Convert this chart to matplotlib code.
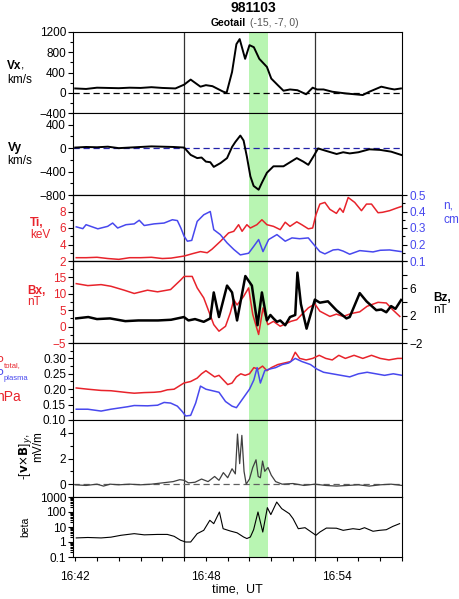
import numpy as np
import matplotlib
matplotlib.use('Agg')
import matplotlib.pyplot as plt
from matplotlib.ticker import MultipleLocator, FixedLocator, NullFormatter, LogLocator, FuncFormatter

plt.rcParams['font.family'] = ['Liberation Sans', 'DejaVu Sans']
plt.rcParams['font.size'] = 8.5

RED = '#e8232b'
BLUE = '#4848ee'
GREEN = '#b8f5b2'
GRAY = '#333333'

# ---------------- data (time in minutes after 16:42 UT) ----------------
vx_t = [0.0, 0.5, 1.0, 1.5, 2.0, 2.5, 3.0, 3.5, 4.0, 4.6, 5.0, 5.3, 5.75, 6.0, 6.3, 6.8, 6.95,
        7.2, 7.4, 7.55, 7.8, 8.0, 8.2, 8.45, 8.8, 9.0, 9.3, 9.56, 9.86, 10.2, 10.6, 10.9, 11.1,
        11.4, 11.8, 12.45, 13.2, 13.5, 14.05, 14.4, 14.65, 14.95]
vx = [85, 75, 100, 95, 90, 100, 95, 110, 95, 85, 160, 260, 120, 150, 130, 20, 0,
      410, 960, 1060, 670, 940, 900, 670, 510, 280, 150, 40, 65, 50, -30, 100, 65,
      65, 20, -15, -45, 20, 120, 85, 65, 85]

vy_t = [0, 0.5, 1.0, 1.5, 2.0, 2.5, 3.0, 3.5, 4.0, 4.5, 5.0, 5.3, 5.6, 5.8, 6.0, 6.2, 6.36,
        6.67, 6.97, 7.2, 7.35, 7.58, 7.73, 7.88, 8.04, 8.19, 8.42, 8.57, 8.8, 9.1, 9.56,
        10.17, 10.47, 10.7, 10.93, 11.15, 11.5, 12.0, 12.3, 12.6, 13.0, 13.5, 14.0, 14.5, 15.0]
vy = [10, 20, 15, 25, 0, 10, 20, 30, 25, 20, 10, -115, -170, -160, -230, -240, -320,
      -255, -170, 20, 105, 215, 130, -145, -480, -645, -710, -590, -420, -310, -310,
      -170, -230, -285, -145, -5, -45, -100, -70, -90, -70, -20, -30, -60, -120]

ti_t = [0.05, 0.5, 1.0, 1.5, 2.0, 2.5, 3.0, 3.5, 4.0, 4.4, 5.0, 5.4, 5.75, 6.06, 6.28, 6.66,
        7.04, 7.28, 7.5, 7.66, 7.88, 8.04, 8.34, 8.57, 8.8, 9.1, 9.41, 9.64, 9.86, 10.17,
        10.4, 10.7, 10.9, 11.05, 11.23, 11.46, 11.69, 11.99, 12.15, 12.3, 12.53, 12.83,
        13.14, 13.37, 13.6, 13.9, 14.1, 14.43, 14.74, 14.96]
ti = [2.4, 2.4, 2.45, 2.3, 2.2, 2.4, 2.4, 2.45, 2.3, 2.35, 2.6, 2.9, 3.14, 3.0, 3.43, 4.37,
      5.4, 5.6, 6.4, 5.6, 6.4, 6.0, 6.4, 7.0, 6.4, 6.2, 5.8, 6.7, 6.2, 6.75,
      6.4, 5.9, 6.0, 7.6, 8.9, 9.1, 8.26, 7.77, 8.4, 7.9, 9.7, 9.1,
      8.1, 8.9, 8.9, 7.85, 7.9, 8.1, 8.4, 8.6]

n_t = [0.05, 0.35, 0.5, 1.04, 1.49, 1.72, 1.95, 2.33, 2.71, 2.94, 3.17, 3.62, 4.08, 4.46,
       4.69, 4.85, 5.0, 5.15, 5.35, 5.6, 5.9, 6.2, 6.36, 6.66, 6.97, 7.28, 7.58, 7.96, 8.19,
       8.42, 8.62, 8.88, 9.26, 9.64, 9.95, 10.3, 10.7, 10.95, 11.23, 11.46, 11.84, 12.07,
       12.3, 12.6, 13.06, 13.67, 14.0, 14.43, 14.96]
n = [0.307, 0.296, 0.32, 0.295, 0.31, 0.33, 0.30, 0.32, 0.325, 0.347, 0.315, 0.325, 0.33,
     0.35, 0.345, 0.30, 0.25, 0.22, 0.225, 0.34, 0.38, 0.40, 0.29, 0.26, 0.21, 0.17, 0.137,
     0.147, 0.188, 0.23, 0.157, 0.23, 0.26, 0.22, 0.24, 0.235, 0.24, 0.20, 0.157, 0.143,
     0.167, 0.17, 0.16, 0.141, 0.163, 0.155, 0.165, 0.167, 0.157]

bx_t = [0.05, 0.58, 1.19, 1.64, 2.25, 2.71, 3.32, 3.78, 4.38, 4.84, 5.0, 5.37, 5.6, 5.9,
        6.13, 6.36, 6.6, 6.9, 7.12, 7.28, 7.43, 7.73, 7.96, 8.15, 8.42, 8.62, 8.84, 9.1,
        9.41, 9.7, 9.9, 10.17, 10.4, 10.7, 11.0, 11.23, 11.69, 11.99, 12.3, 12.68, 13.06,
        13.4, 13.9, 14.28, 14.58, 14.9]
bx = [13.1, 12.5, 12.8, 12.3, 11.1, 10.1, 11.1, 10.6, 11.3, 14.2, 15.3, 15.3, 11.8, 8.75,
      4.7, 0.6, -1.4, 0.1, 4.2, 8.2, 6.6, 9.2, 11.8, 3.7, -2.4, 5.7, 0.6, 1.6,
      0.1, 1.0, 1.6, 2.1, 3.7, 5.7, 6.9, 4.7, 3.1, 3.8, 3.1, 4.0, 4.5,
      6.2, 7.4, 7.2, 5.1, 3.1]

bz_t = [0.05, 0.6, 1.0, 1.6, 2.3, 2.9, 3.8, 4.4, 4.99, 5.2, 5.5, 5.9, 6.2, 6.36, 6.6, 6.97,
        7.2, 7.43, 7.81, 8.11, 8.37, 8.57, 8.8, 8.96, 9.1, 9.26, 9.41, 9.64, 9.86, 10.1,
        10.2, 10.36, 10.62, 11.0, 11.23, 11.6, 11.99, 12.45, 12.6, 13.06, 13.37, 13.82,
        14.05, 14.28, 14.5, 14.7, 14.96]
bz = [1.6, 1.8, 1.5, 1.6, 1.2, 1.3, 1.3, 1.4, 1.8, 1.3, 1.5, 1.1, 1.6, 5.4, 1.8, 6.4,
      5.4, 1.3, 7.8, 6.4, 0.6, 5.4, 1.3, 2.1, 1.6, 1.1, 1.3, 0.6, 1.8, 2.1,
      8.3, 3.7, 0.1, 4.35, 3.9, 4.1, 2.8, 1.6, 1.8, 5.3, 4.1, 2.8,
      2.9, 2.5, 3.4, 3.0, 4.3]

pt_t = [0.05, 0.58, 1.19, 1.64, 2.4, 2.71, 3.17, 3.62, 3.93, 4.23, 4.54, 4.99, 5.3, 5.6,
        5.8, 6.0, 6.2, 6.4, 6.6, 6.8, 7.0, 7.2, 7.4, 7.6, 7.8, 8.0, 8.2, 8.4, 8.6, 8.8,
        9.0, 9.3, 9.6, 9.9, 10.1, 10.3, 10.6, 10.9, 11.2, 11.5, 11.8, 12.1, 12.4, 12.8,
        13.2, 13.6, 14.0, 14.4, 14.8, 15.0]
ptot = [0.204, 0.20, 0.196, 0.195, 0.189, 0.187, 0.189, 0.19, 0.192, 0.198, 0.20, 0.22,
        0.225, 0.236, 0.25, 0.26, 0.25, 0.24, 0.245, 0.23, 0.215, 0.22, 0.24, 0.25, 0.245,
        0.25, 0.27, 0.265, 0.275, 0.26, 0.27, 0.28, 0.285, 0.29, 0.32, 0.30, 0.295, 0.30,
        0.31, 0.30, 0.295, 0.31, 0.30, 0.31, 0.30, 0.31, 0.30, 0.295, 0.30, 0.30]

pp_t = [0.05, 0.58, 1.19, 1.64, 2.4, 2.71, 3.32, 3.78, 4.08, 4.38, 4.69, 4.92, 5.07, 5.3,
        5.53, 5.75, 6.0, 6.3, 6.6, 6.9, 7.2, 7.4, 7.6, 7.8, 8.0, 8.2, 8.35, 8.5, 8.7, 8.9,
        9.2, 9.5, 9.8, 10.1, 10.4, 10.8, 11.1, 11.4, 11.8, 12.2, 12.6, 13.0, 13.4, 13.8,
        14.2, 14.6, 15.0]
pplas = [0.135, 0.135, 0.129, 0.135, 0.143, 0.147, 0.146, 0.148, 0.157, 0.155, 0.145,
         0.127, 0.113, 0.115, 0.155, 0.21, 0.20, 0.195, 0.19, 0.16, 0.145, 0.14, 0.16, 0.18,
         0.20, 0.23, 0.27, 0.22, 0.26, 0.265, 0.27, 0.28, 0.285, 0.30, 0.29, 0.28, 0.265,
         0.255, 0.25, 0.245, 0.24, 0.25, 0.255, 0.25, 0.245, 0.25, 0.245]

e_t = [0, 0.5, 1.0, 1.3, 1.6, 2.0, 2.5, 3.0, 3.5, 4.0, 4.5, 4.8, 5.0, 5.2, 5.5, 5.8, 6.1,
       6.4, 6.6, 6.8, 7.0, 7.2, 7.35, 7.45, 7.55, 7.65, 7.75, 7.85, 8.0, 8.15, 8.3, 8.4,
       8.5, 8.6, 8.7, 8.85, 9.0, 9.2, 9.5, 10, 10.5, 11, 11.5, 12, 12.5, 13, 13.5, 14,
       14.5, 15]
efield = [-0.05, -0.1, 0.0, -0.15, 0.0, -0.05, 0.0, -0.05, 0.0, 0.1, 0.2, 0.35, 0.3, 0.1,
          0.15, 0.4, 0.2, 0.6, 0.3, 0.9, 0.5, 1.2, 0.8, 3.9, 1.6, 3.8, 1.0, 0.0, 0.4, 1.3,
          1.9, 0.6, 0.5, 1.8, 1.0, 1.3, 0.7, 0.2, 0.0, 0.05, -0.1, 0.0, -0.1, -0.15, -0.1,
          -0.05, -0.15, -0.05, 0.0, -0.1]

beta_t = [0.05, 0.58, 1.19, 1.64, 2.1, 2.71, 3.17, 3.78, 4.23, 4.54, 4.84, 5.07, 5.3, 5.6,
          5.9, 6.18, 6.36, 6.62, 6.79, 7.12, 7.43, 7.73, 7.88, 8.04, 8.19, 8.39, 8.61, 8.82,
          8.98, 9.25, 9.48, 9.83, 10.0, 10.24, 10.55, 10.77, 11.05, 11.23, 11.53, 11.99,
          12.3, 12.75, 13.05, 13.28, 13.67, 13.97, 14.28, 14.58, 14.89]
beta = [1.87, 2.0, 1.87, 2.1, 2.8, 3.6, 3.0, 3.2, 3.2, 2.4, 1.3, 1.0, 1.0, 3.6,
        6.0, 28, 16.7, 100, 7.7, 5.4, 4.1, 2.15, 1.7, 2.15, 6.6, 100, 4.6, 195,
        67, 460, 167, 77, 36, 7.7, 9.0, 5.4, 2.8, 4.6, 8.5, 8.3,
        6.0, 7.7, 6.8, 9.0, 5.2, 6.0, 6.6, 11, 16.7]

event_lines = [5.0, 11.0]
green_band = (8.0, 8.85)
xticks_lab = {0: '16:42', 6: '16:48', 12: '16:54'}

# ---------------- layout ----------------
W, H = 459, 599
fig = plt.figure(figsize=(W / 100, H / 100), dpi=100)
XL, XR = 73, 402


def ax_at(top, bottom):
    return fig.add_axes([XL / W, 1 - bottom / H, (XR - XL) / W, (bottom - top) / H])


def px(x, y):
    return x / W, 1 - y / H


panels = [(32, 113), (113, 195), (195, 261), (261, 343), (343, 420), (420, 497), (497, 557)]
axes = [ax_at(t, b) for t, b in panels]

for ax in axes:
    ax.set_xlim(-0.1, 15.0)
    ax.axvspan(*green_band, color=GREEN, lw=0, zorder=0)
    for xv in event_lines:
        ax.axvline(xv, color=GRAY, lw=0.9, zorder=1)
    ax.tick_params(axis='y', which='major', direction='out', length=3.5, width=0.8, pad=1.5)
    ax.tick_params(axis='y', which='minor', direction='out', length=2, width=0.8)
    ax.xaxis.set_major_locator(MultipleLocator(1))
    ax.tick_params(axis='x', which='both', direction='out', length=3, width=0.8)
    for s in ax.spines.values():
        s.set_linewidth(0.8)
    if ax is not axes[-1]:
        ax.tick_params(axis='x', bottom=False, labelbottom=False)

# Panel 1: Vx
a = axes[0]
a.plot(vx_t, vx, color='black', lw=1.4, zorder=3)
a.axhline(0, color='black', lw=0.9, ls=(0, (5, 3)), zorder=2)
a.set_ylim(-400, 1200)
a.yaxis.set_major_locator(FixedLocator([-400, 0, 400, 800, 1200]))
a.yaxis.set_minor_locator(MultipleLocator(200))

# Panel 2: Vy
a = axes[1]
a.plot(vy_t, vy, color='black', lw=1.4, zorder=3)
a.axhline(0, color='#2222aa', lw=0.9, ls=(0, (5, 3)), zorder=2)
a.set_ylim(-800, 600)
a.yaxis.set_major_locator(FixedLocator([-800, -400, 0, 400]))
a.yaxis.set_minor_locator(MultipleLocator(200))

# Panel 3: Ti and n
a = axes[2]
a.plot(ti_t, ti, color=RED, lw=1.1, zorder=3)
a.set_ylim(2, 10)
a.yaxis.set_major_locator(FixedLocator([2, 4, 6, 8]))
a.yaxis.set_minor_locator(MultipleLocator(1))
a.tick_params(axis='y', labelcolor=RED)
a2 = a.twinx()
a2.plot(n_t, n, color=BLUE, lw=1.1, zorder=3)
a2.set_ylim(0.1, 0.5)
a2.set_xlim(-0.1, 15.0)
a2.yaxis.set_major_locator(FixedLocator([0.1, 0.2, 0.3, 0.4, 0.5]))
a2.yaxis.set_minor_locator(MultipleLocator(0.05))
a2.yaxis.set_major_formatter(FuncFormatter(lambda v, p: f'{v:.1f}'))
a2.tick_params(axis='y', which='major', direction='out', length=3.5, width=0.8, pad=2, labelcolor=BLUE)
a2.tick_params(axis='y', which='minor', direction='out', length=2, width=0.8)

# Panel 4: Bx and Bz
a = axes[3]
a.plot(bx_t, bx, color=RED, lw=1.1, zorder=3)
a.set_ylim(-5, 20)
a.yaxis.set_major_locator(FixedLocator([-5, 0, 5, 10, 15]))
a.yaxis.set_minor_locator(MultipleLocator(2.5))
a.tick_params(axis='y', labelcolor=RED)
a2 = a.twinx()
a2.plot(bz_t, bz, color='black', lw=1.8, zorder=4)
a2.set_ylim(-2, 10)
a2.set_xlim(-0.1, 15.0)
a2.yaxis.set_major_locator(FixedLocator([-2, 2, 6]))
a2.yaxis.set_minor_locator(MultipleLocator(2))
a2.tick_params(axis='y', which='major', direction='out', length=3.5, width=0.8, pad=2)
a2.tick_params(axis='y', which='minor', direction='out', length=3.5, width=0.8)

# Panel 5: pressures
a = axes[4]
a.plot(pt_t, ptot, color=RED, lw=1.1, zorder=3)
a.plot(pp_t, pplas, color=BLUE, lw=1.1, zorder=3)
a.set_ylim(0.1, 0.35)
a.yaxis.set_major_locator(FixedLocator([0.10, 0.15, 0.20, 0.25, 0.30]))
a.yaxis.set_minor_locator(MultipleLocator(0.025))
a.yaxis.set_major_formatter(FuncFormatter(lambda v, p: f'{v:.2f}'))

# Panel 6: electric field
a = axes[5]
a.plot(e_t, efield, color='#404040', lw=0.9, zorder=3)
a.axhline(0, color='#606060', lw=0.9, ls=(0, (5, 3)), zorder=2)
a.set_ylim(-1, 5)
a.yaxis.set_major_locator(FixedLocator([0, 2, 4]))
a.yaxis.set_minor_locator(MultipleLocator(1))

# Panel 7: beta
a = axes[6]
a.plot(beta_t, beta, color='black', lw=0.8, zorder=3)
a.set_yscale('log')
a.set_ylim(0.1, 1000)
a.yaxis.set_major_locator(FixedLocator([0.1, 1, 10, 100, 1000]))
a.yaxis.set_major_formatter(FuncFormatter(lambda v, p: f'{v:g}'))
a.yaxis.set_minor_locator(LogLocator(base=10, subs=np.arange(2, 10)))
a.yaxis.set_minor_formatter(NullFormatter())
a.xaxis.set_major_formatter(FuncFormatter(lambda v, p: xticks_lab.get(int(round(v)), '')))
a.tick_params(axis='x', pad=7)

# ---------------- texts ----------------
fig.text(*px(253, 8), '981103', ha='center', va='center', fontsize=10, fontweight='bold')
fig.text(*px(211, 23), 'Geotail', ha='left', va='center', fontsize=7.5, fontweight='bold')
fig.text(*px(250, 23), '(-15, -7, 0)', ha='left', va='center', fontsize=7.5, color='#555555')

fig.text(*px(7, 66), 'Vx', ha='left', va='center', fontsize=8.5, fontweight='bold')
fig.text(*px(21, 66), ',', ha='left', va='center', fontsize=8.5)
fig.text(*px(7, 80), 'km/s', ha='left', va='center', fontsize=8.5)

fig.text(*px(8, 148), 'Vy', ha='left', va='center', fontsize=8.5, fontweight='bold')
fig.text(*px(7, 161), 'km/s', ha='left', va='center', fontsize=8.5)

fig.text(*px(30, 223), 'Ti,', ha='left', va='center', fontsize=8.5, fontweight='bold', color=RED)
fig.text(*px(30, 235), 'keV', ha='left', va='center', fontsize=8.5, color=RED)
fig.text(*px(443, 205), 'n,', ha='left', va='center', fontsize=8.5, color=BLUE)
fig.text(*px(443, 219), 'cm$^{-3}$', ha='left', va='center', fontsize=8.5, color=BLUE)

fig.text(*px(27, 291), 'Bx,', ha='left', va='center', fontsize=8.5, fontweight='bold', color=RED)
fig.text(*px(27, 302), 'nT', ha='left', va='center', fontsize=8.5, color=RED)
fig.text(*px(433, 298), 'Bz,', ha='left', va='center', fontsize=8.5, fontweight='bold')
fig.text(*px(433, 310), 'nT', ha='left', va='center', fontsize=8.5)

fig.text(*px(-4, 362), 'P', ha='left', va='center', fontsize=8.5, color=RED)
fig.text(*px(4, 366), 'total,', ha='left', va='center', fontsize=5.5, color=RED)
fig.text(*px(-4, 375), 'P', ha='left', va='center', fontsize=8.5, color=BLUE)
fig.text(*px(4, 379), 'plasma', ha='left', va='center', fontsize=5.5, color=BLUE)
fig.text(*px(-4, 397), 'nPa', ha='left', va='center', fontsize=10, color=RED)

fig.text(*px(25, 457), r'-[$\mathbf{v}$$\times$$\mathbf{B}$]$_y$,', ha='center', va='center',
         rotation=90, fontsize=8.5)
fig.text(*px(38, 447), 'mV/m', ha='center', va='center', rotation=90, fontsize=8.5)
fig.text(*px(25, 527), 'beta', ha='center', va='center', rotation=90, fontsize=7.5)

fig.text(*px(237, 590), 'time,  UT', ha='center', va='center', fontsize=9)

fig.savefig('out.png', dpi=100)
